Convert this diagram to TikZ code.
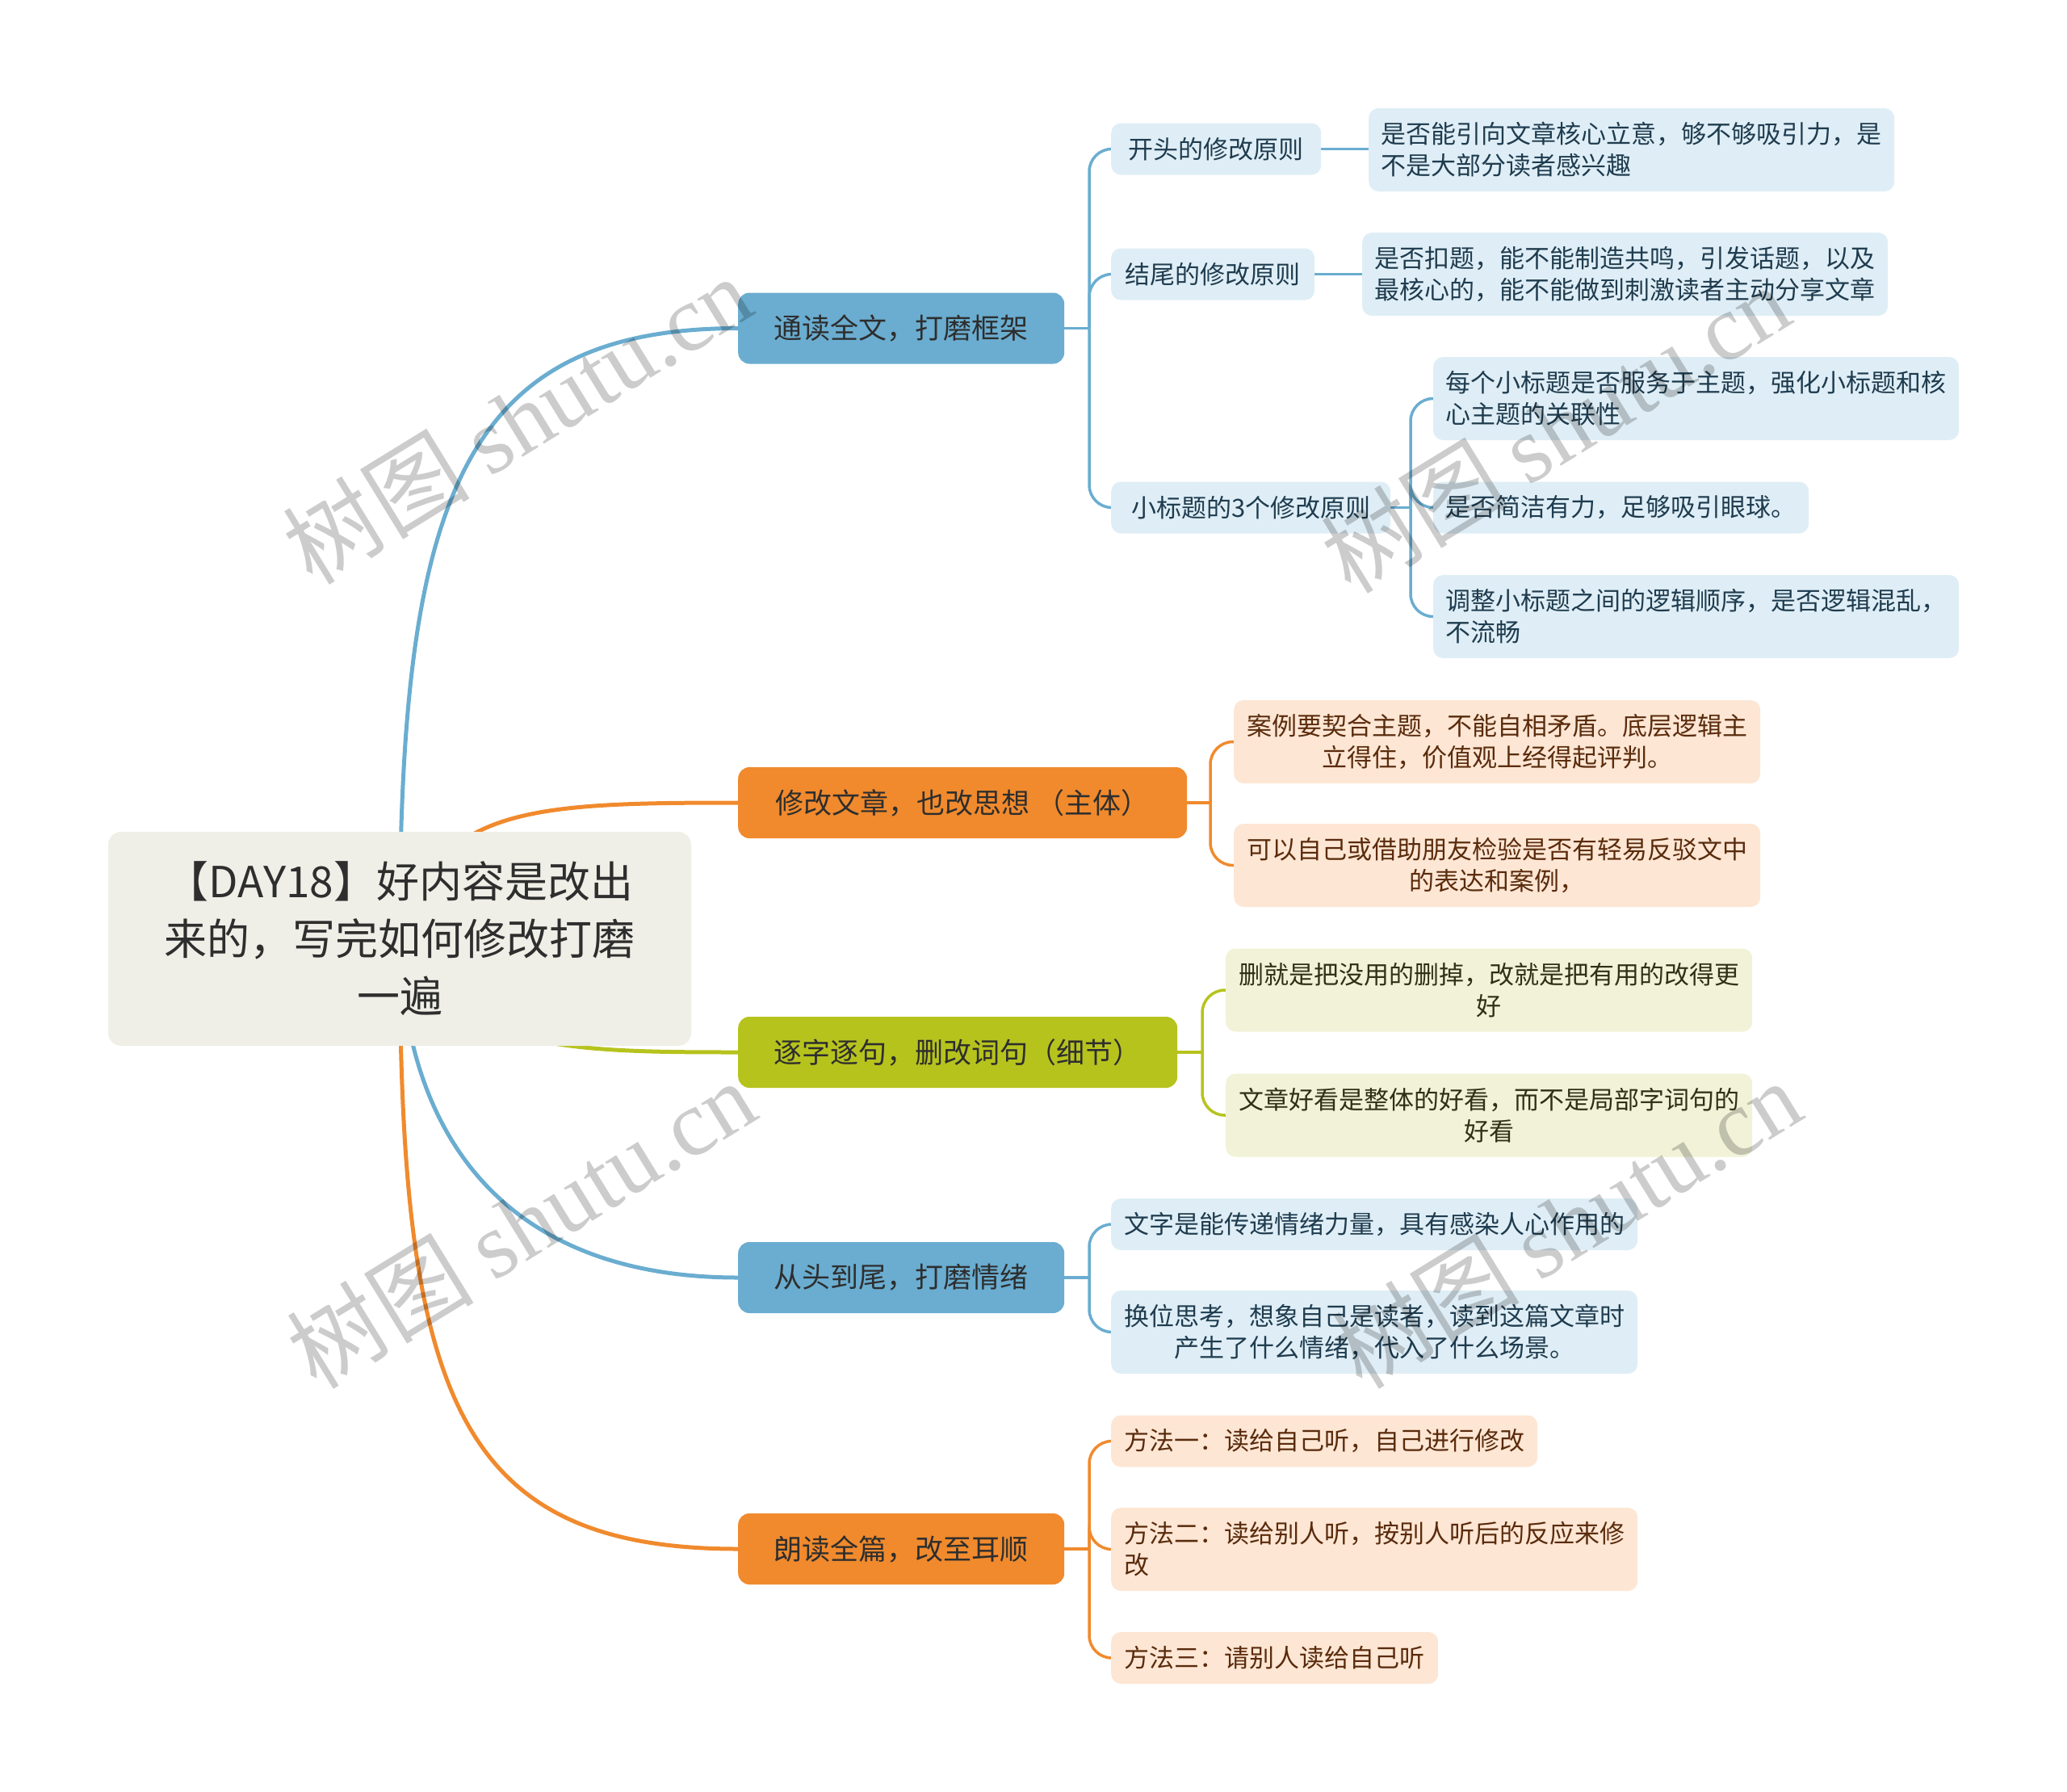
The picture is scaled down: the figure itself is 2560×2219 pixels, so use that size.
\documentclass[tikz,border=0pt]{standalone}
\usepackage{fontspec}
\setmainfont{Noto Sans CJK SC}
\newfontfamily\wmfont{Liberation Serif}
\usetikzlibrary{backgrounds}
\definecolor{bluemain}{HTML}{6AADD0}
\definecolor{orangemain}{HTML}{F08A2D}
\definecolor{greenmain}{HTML}{B6C31D}
\definecolor{rootfill}{HTML}{EFEFE7}
\definecolor{bluelight}{HTML}{DFEEF6}
\definecolor{orangelight}{HTML}{FDE6D4}
\definecolor{greenlight}{HTML}{F1F2D7}
\definecolor{txtdark}{HTML}{2E2E2E}
\definecolor{bluetxt}{HTML}{1F3C4F}
\definecolor{browntxt}{HTML}{5A2B0C}
\definecolor{greentxt}{HTML}{2F3014}
\begin{document}
\begin{tikzpicture}[x=1pt,y=-1pt,
  base/.style={inner sep=0pt, anchor=west},
  rootbox/.style={inner sep=0pt, anchor=center, fill=rootfill, rounded corners=16pt,
    minimum width=722pt, minimum height=265pt, align=center, text=txtdark,
    font=\fontsize{53}{71}\selectfont},
  lone/.style={base, rounded corners=14pt, minimum height=88pt, text=txtdark,
    font=\fontsize{35}{44}\selectfont},
  ltwo/.style={base, rounded corners=12pt, font=\fontsize{31}{39}\selectfont},
  bluebox/.style={ltwo, fill=bluelight, text=bluetxt},
  orangebox/.style={ltwo, fill=orangelight, text=browntxt},
  greenbox/.style={ltwo, fill=greenlight, text=greentxt},
  single/.style={minimum height=64pt},
  double/.style={minimum height=103pt},
  maincurve/.style={line width=5pt, line cap=round},
  subline/.style={line width=3.5pt, rounded corners=28pt},
  wm/.style={rotate=31.6, opacity=0.2, text=black, font=\fontsize{116}{116}\selectfont, inner sep=0pt}
]
\useasboundingbox (0,0) rectangle (2560,2219);

% root
\node[rootbox] (root) at (495,1162.5) {【DAY18】好内容是改出\\来的，写完如何修改打磨\\一遍};

% level 1
\node[lone, fill=bluemain, minimum width=404pt] (n1) at (914,406.5) {通读全文，打磨框架};
\node[lone, fill=orangemain, minimum width=556pt] (n2) at (914,994) {修改文章，也改思想 （主体）};
\node[lone, fill=greenmain, minimum width=544pt] (n3) at (914,1303) {逐字逐句，删改词句（细节）};
\node[lone, fill=bluemain, minimum width=404pt] (n4) at (914,1582) {从头到尾，打磨情绪};
\node[lone, fill=orangemain, minimum width=404pt] (n5) at (914,1918) {朗读全篇，改至耳顺};

% children of n1
\node[bluebox, single, minimum width=260pt] (a1) at (1376,184.5) {开头的修改原则};
\node[bluebox, single, minimum width=252pt] (a2) at (1376,339.5) {结尾的修改原则};
\node[bluebox, single, minimum width=346pt] (a3) at (1376,628.5) {小标题的3个修改原则};

\node[bluebox, double, minimum width=651pt, align=left] (b1) at (1695,185.5) {是否能引向文章核心立意，够不够吸引力，是\\不是大部分读者感兴趣};
\node[bluebox, double, minimum width=651pt, align=left] (b2) at (1687,339.5) {是否扣题，能不能制造共鸣，引发话题，以及\\最核心的，能不能做到刺激读者主动分享文章};

\node[bluebox, double, minimum width=651pt, align=left] (c1) at (1775,493.5) {每个小标题是否服务于主题，强化小标题和核\\心主题的关联性};
\node[bluebox, single, minimum width=465pt] (c2) at (1775,628.5) {是否简洁有力，足够吸引眼球。};
\node[bluebox, double, minimum width=651pt, align=left] (c3) at (1775,763.5) {调整小标题之间的逻辑顺序，是否逻辑混乱，\\不流畅};

% children of n2
\node[orangebox, double, minimum width=652pt, align=center] (d1) at (1528,918.5) {案例要契合主题，不能自相矛盾。底层逻辑主\\立得住，价值观上经得起评判。};
\node[orangebox, double, minimum width=652pt, align=center] (d2) at (1528,1071.5) {可以自己或借助朋友检验是否有轻易反驳文中\\的表达和案例，};

% children of n3
\node[greenbox, double, minimum width=652pt, align=center] (e1) at (1518,1226) {删就是把没用的删掉，改就是把有用的改得更\\好};
\node[greenbox, double, minimum width=652pt, align=center] (e2) at (1518,1381) {文章好看是整体的好看，而不是局部字词句的\\好看};

% children of n4
\node[bluebox, single, minimum width=652pt] (f1) at (1376,1516) {文字是能传递情绪力量，具有感染人心作用的};
\node[bluebox, double, minimum width=652pt, align=center] (f2) at (1376,1649.5) {换位思考，想象自己是读者，读到这篇文章时\\产生了什么情绪，代入了什么场景。};

% children of n5
\node[orangebox, single, minimum width=528pt] (g1) at (1376,1784.5) {方法一：读给自己听，自己进行修改};
\node[orangebox, double, minimum width=652pt, align=left] (g2) at (1376,1918.5) {方法二：读给别人听，按别人听后的反应来修\\改};
\node[orangebox, single, minimum width=405pt] (g3) at (1376,2053) {方法三：请别人读给自己听};

% junction coordinates
\coordinate (j1) at (1349,406.5);
\coordinate (j2) at (1499,994);
\coordinate (j3) at (1489,1303);
\coordinate (j4) at (1349,1582);
\coordinate (j5) at (1349,1918);
\coordinate (ja3) at (1747,628.5);

\begin{scope}[on background layer]
  % main curves
  \draw[maincurve, bluemain] (root.center) .. controls (495,620) and (570,406.5) .. (n1.west);
  \draw[maincurve, orangemain] (root.center) .. controls (540,1000) and (650,994) .. (n2.west);
  \draw[maincurve, greenmain] (root.center) .. controls (560,1300) and (700,1303) .. (n3.west);
  \draw[maincurve, bluemain] (root.center) .. controls (500,1400) and (620,1582) .. (n4.west);
  \draw[maincurve, orangemain] (root.center) .. controls (495,1721) and (560,1918) .. (n5.west);

  % n1 branch
  \draw[subline, bluemain] (n1.east) -- (j1);
  \foreach \c in {a1,a2,a3} \draw[subline, bluemain] (j1) |- (\c.west);
  \draw[subline, bluemain] (a1.east) -- (a1.east -| b1.west);
  \draw[subline, bluemain] (a2.east) -- (b2.west);
  \draw[subline, bluemain] (a3.east) -- (ja3);
  \foreach \c in {c1,c2,c3} \draw[subline, bluemain] (ja3) |- (\c.west);

  % n2 branch
  \draw[subline, orangemain] (n2.east) -- (j2);
  \foreach \c in {d1,d2} \draw[subline, orangemain] (j2) |- (\c.west);

  % n3 branch
  \draw[subline, greenmain] (n3.east) -- (j3);
  \foreach \c in {e1,e2} \draw[subline, greenmain] (j3) |- (\c.west);

  % n4 branch
  \draw[subline, bluemain] (n4.east) -- (j4);
  \foreach \c in {f1,f2} \draw[subline, bluemain] (j4) |- (\c.west);

  % n5 branch
  \draw[subline, orangemain] (n5.east) -- (j5);
  \foreach \c in {g1,g2,g3} \draw[subline, orangemain] (j5) |- (\c.west);
\end{scope}

% watermarks
\node[wm] (w1) at (640,519) {树图 {\wmfont shutu.cn}};
\node[wm] (w2) at (1926,530) {树图 {\wmfont shutu.cn}};
\node[wm] (w3) at (645,1515) {树图 {\wmfont shutu.cn}};
\node[wm] (w4) at (1940,1515) {树图 {\wmfont shutu.cn}};
\end{tikzpicture}
\end{document}
